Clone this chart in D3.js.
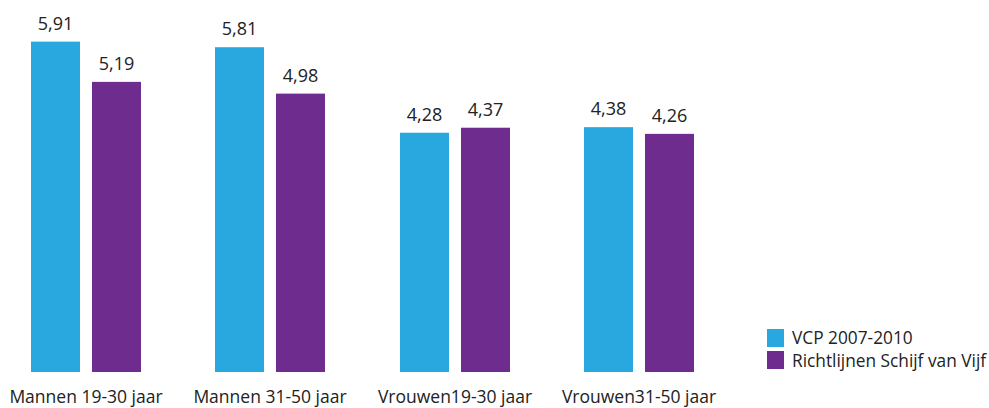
<!DOCTYPE html>
<html><head><meta charset="utf-8">
<script src="https://cdn.jsdelivr.net/npm/d3@7"></script>
<style>body{margin:0;background:#fff}svg{display:block}text{font-family:"Open Sans","Noto Sans",sans-serif;fill:#222}</style>
</head><body><svg id="c" width="989" height="408"></svg>
<script>
const categories = ["Mannen 19-30 jaar","Mannen 31-50 jaar","Vrouwen19-30 jaar","Vrouwen31-50 jaar"];
const seriesNames = ["VCP 2007-2010","Richtlijnen Schijf van Vijf"];
const vcp = [5.91,5.81,4.28,4.38];
const schijf = [5.19,4.98,4.37,4.26];
const colors = ["#29a8e0","#6e2c8e"];

const svg = d3.select("#c");
const x0 = d3.scaleBand().domain(categories).range([31,31+184.33*4]).padding(0);
const x1 = d3.scaleBand().domain(seriesNames).range([0,110]).paddingInner(12/61);
const y = d3.scaleLinear().domain([0,6]).range([372,372-55.9*6]);
const fmt = v => d3.format(".2f")(v).replace(".",",");
const series = [vcp, schijf];

categories.forEach((c,i)=>{
  const g = svg.append("g").attr("transform",`translate(${Math.round(x0(c))},0)`);
  seriesNames.forEach((s,j)=>{
    const v = series[j][i];
    g.append("rect").attr("x",x1(s)).attr("width",x1.bandwidth())
      .attr("y",y(v)).attr("height",y(0)-y(v)).attr("fill",colors[j]);
    g.append("text").attr("x",x1(s)+x1.bandwidth()/2).attr("y",y(v)-12)
      .attr("text-anchor","middle").attr("font-size",18).text(fmt(v));
  });
  g.append("text").attr("x",55).attr("y",403).attr("text-anchor","middle")
    .attr("font-size",17.5).text(c);
});

const lg = svg.append("g").attr("transform","translate(767,329)");
seriesNames.forEach((s,j)=>{
  lg.append("rect").attr("x",0).attr("y",j*22).attr("width",17).attr("height",18).attr("fill",colors[j]);
  lg.append("text").attr("x",25).attr("y",j*23+15).attr("font-size",17.3).text(s);
});
</script></body></html>
